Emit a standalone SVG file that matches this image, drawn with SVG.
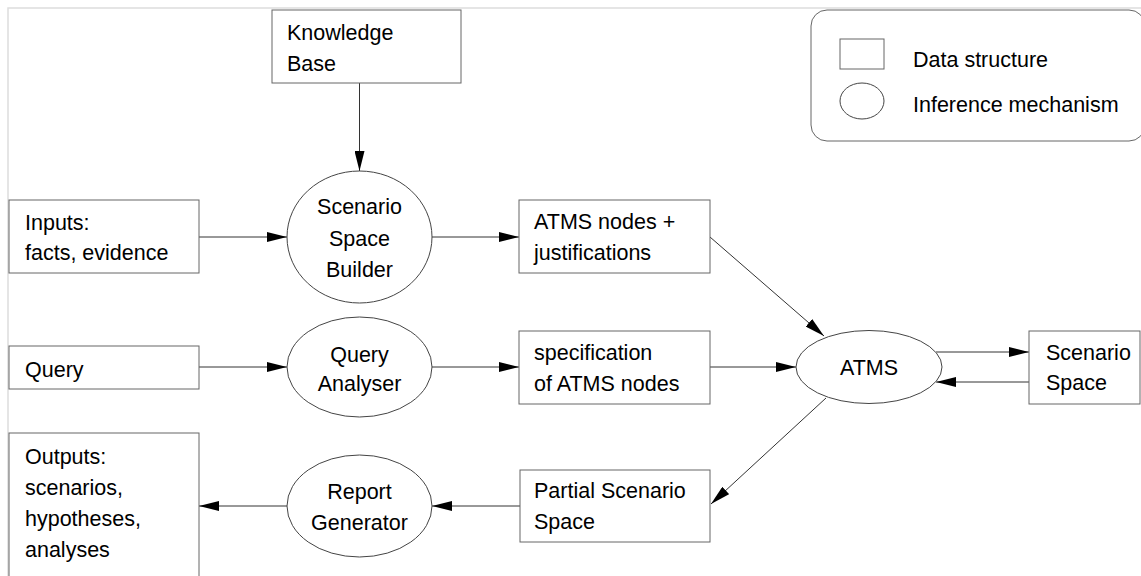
<svg xmlns="http://www.w3.org/2000/svg" width="1141" height="576" viewBox="0 0 1141 576">
  <style>
    .box { fill: #fff; stroke: #666; stroke-width: 1; }
    .proc { fill: #fff; stroke: #444; stroke-width: 1; }
    .lbl { font-family: "Liberation Sans", Arial, sans-serif; font-size: 21.5px; fill: #000; }
    .mid { text-anchor: middle; }
    .edge { fill: none; stroke: #333; stroke-width: 1; }
    .frame { fill: none; stroke: #ddd; stroke-width: 1.5; }
  </style>
  <defs>
    <marker id="arrow" markerUnits="userSpaceOnUse" markerWidth="20" markerHeight="10" refX="20" refY="5" orient="auto">
      <path d="M0,0 L20,5 L0,10 Z" fill="#000"/>
    </marker>
  </defs>

  <rect width="1141" height="576" fill="#fff"/>
  <path class="frame" d="M8,576 V8 H1141"/>

  <!-- legend -->
  <g id="legend">
    <rect class="box" x="811" y="10" width="334" height="131" rx="16"/>
    <rect class="box" x="840" y="39" width="44" height="30"/>
    <ellipse class="proc" cx="862" cy="101" rx="22" ry="18"/>
    <text class="lbl" x="913" y="67">Data structure</text>
    <text class="lbl" x="913" y="112">Inference mechanism</text>
  </g>

  <!-- connectors -->
  <g id="connectors">
    <line class="edge" x1="359.5" y1="83" x2="359.5" y2="171" marker-end="url(#arrow)"/>
    <line class="edge" x1="199" y1="237" x2="287" y2="237" marker-end="url(#arrow)"/>
    <line class="edge" x1="432" y1="237" x2="519" y2="237" marker-end="url(#arrow)"/>
    <line class="edge" x1="710" y1="237" x2="824" y2="336" marker-end="url(#arrow)"/>
    <line class="edge" x1="199" y1="367" x2="287" y2="367" marker-end="url(#arrow)"/>
    <line class="edge" x1="432" y1="367" x2="519" y2="367" marker-end="url(#arrow)"/>
    <line class="edge" x1="710" y1="367" x2="796" y2="367" marker-end="url(#arrow)"/>
    <line class="edge" x1="936" y1="352" x2="1029" y2="352" marker-end="url(#arrow)"/>
    <line class="edge" x1="1029" y1="382" x2="936" y2="382" marker-end="url(#arrow)"/>
    <line class="edge" x1="826" y1="398" x2="711" y2="504" marker-end="url(#arrow)"/>
    <line class="edge" x1="520" y1="506" x2="432" y2="506" marker-end="url(#arrow)"/>
    <line class="edge" x1="287" y1="506" x2="199" y2="506" marker-end="url(#arrow)"/>
  </g>

  <g id="knowledge-base">
    <rect class="box" x="272" y="10" width="189" height="73"/>
    <text class="lbl" x="287" y="40">Knowledge</text>
    <text class="lbl" x="287" y="71">Base</text>
  </g>

  <g id="inputs">
    <rect class="box" x="9" y="200" width="190" height="73"/>
    <text class="lbl" x="25" y="230">Inputs:</text>
    <text class="lbl" x="25" y="260">facts, evidence</text>
  </g>

  <g id="scenario-space-builder">
    <ellipse class="proc" cx="359.5" cy="237" rx="72.5" ry="66"/>
    <text class="lbl mid" x="359.5" y="214">Scenario</text>
    <text class="lbl mid" x="359.5" y="246">Space</text>
    <text class="lbl mid" x="359.5" y="277">Builder</text>
  </g>

  <g id="atms-nodes">
    <rect class="box" x="519" y="200" width="191" height="73"/>
    <text class="lbl" x="534" y="229">ATMS nodes +</text>
    <text class="lbl" x="534" y="260">justifications</text>
  </g>

  <g id="query">
    <rect class="box" x="9" y="346" width="190" height="43"/>
    <text class="lbl" x="25" y="377">Query</text>
  </g>

  <g id="query-analyser">
    <ellipse class="proc" cx="359.5" cy="367" rx="72.5" ry="50"/>
    <text class="lbl mid" x="359.5" y="362">Query</text>
    <text class="lbl mid" x="359.5" y="391">Analyser</text>
  </g>

  <g id="specification">
    <rect class="box" x="519" y="331" width="191" height="73"/>
    <text class="lbl" x="534" y="360">specification</text>
    <text class="lbl" x="534" y="391">of ATMS nodes</text>
  </g>

  <g id="atms">
    <ellipse class="proc" cx="869" cy="367" rx="73" ry="36.5"/>
    <text class="lbl mid" x="869" y="375">ATMS</text>
  </g>

  <g id="scenario-space">
    <rect class="box" x="1029" y="331" width="111" height="73"/>
    <text class="lbl" x="1046" y="360">Scenario</text>
    <text class="lbl" x="1046" y="390">Space</text>
  </g>

  <g id="outputs">
    <rect class="box" x="9" y="433" width="190" height="160"/>
    <text class="lbl" x="25" y="464">Outputs:</text>
    <text class="lbl" x="25" y="495">scenarios,</text>
    <text class="lbl" x="25" y="526">hypotheses,</text>
    <text class="lbl" x="25" y="557">analyses</text>
  </g>

  <g id="report-generator">
    <ellipse class="proc" cx="359.5" cy="506" rx="72.5" ry="51"/>
    <text class="lbl mid" x="359.5" y="499">Report</text>
    <text class="lbl mid" x="359.5" y="530">Generator</text>
  </g>

  <g id="partial-scenario-space">
    <rect class="box" x="520" y="470" width="190" height="72"/>
    <text class="lbl" x="534" y="498">Partial Scenario</text>
    <text class="lbl" x="534" y="529">Space</text>
  </g>
</svg>
